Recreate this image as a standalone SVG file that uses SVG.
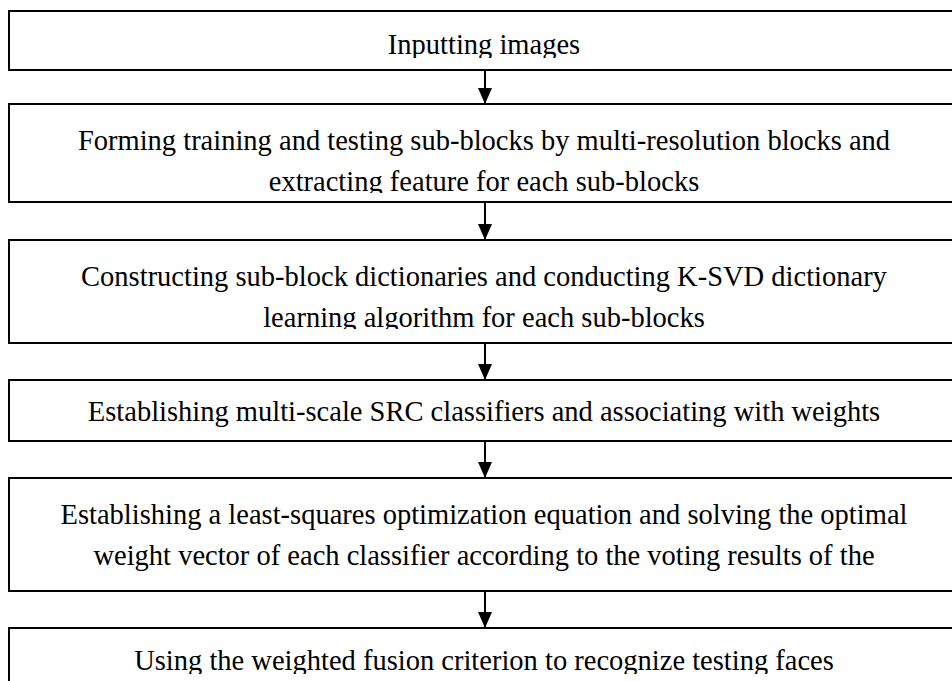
<svg xmlns="http://www.w3.org/2000/svg" width="952" height="681" viewBox="0 0 952 681">
  <style>
    .box { fill: #ffffff; stroke: #000000; stroke-width: 2; }
    .label { font-family: "Liberation Serif", "DejaVu Serif", serif; font-size: 28.5px; fill: #000000; text-anchor: middle; }
    .edge { stroke: #000000; stroke-width: 2; fill: none; }
  </style>
  <defs>
    <marker id="arrow" viewBox="0 0 16 14" refX="16" refY="7" markerWidth="16" markerHeight="14" markerUnits="userSpaceOnUse" orient="auto">
      <path d="M0,0 L16,7 L0,14 Z" fill="#000000"/>
    </marker>
    <!-- text frames: the last line of a frame is cut a little below its baseline -->
    <clipPath id="frame1"><rect x="9" y="11" width="960" height="47"/></clipPath>
    <clipPath id="frame2"><rect x="9" y="104" width="960" height="89"/></clipPath>
    <clipPath id="frame3"><rect x="9" y="240" width="960" height="89"/></clipPath>
    <clipPath id="frame6"><rect x="9" y="628" width="960" height="46"/></clipPath>
  </defs>
  <rect width="952" height="681" fill="#ffffff"/>

  <g id="step1">
    <rect class="box" x="9" y="11" width="960" height="59"/>
    <g clip-path="url(#frame1)">
      <text class="label" x="484" y="54">Inputting images</text>
    </g>
  </g>

  <g id="step2">
    <rect class="box" x="9" y="104" width="960" height="98"/>
    <g clip-path="url(#frame2)">
      <text class="label" x="484" y="150">Forming training and testing sub-blocks by multi-resolution blocks and</text>
      <text class="label" x="484" y="191">extracting feature for each sub-blocks</text>
    </g>
  </g>

  <g id="step3">
    <rect class="box" x="9" y="240" width="960" height="103"/>
    <g clip-path="url(#frame3)">
      <text class="label" x="484" y="286">Constructing sub-block dictionaries and conducting K-SVD dictionary</text>
      <text class="label" x="484" y="327">learning algorithm for each sub-blocks</text>
    </g>
  </g>

  <g id="step4">
    <rect class="box" x="9" y="380" width="960" height="61"/>
    <text class="label" x="484" y="421">Establishing multi-scale SRC classifiers and associating with weights</text>
  </g>

  <g id="step5">
    <rect class="box" x="9" y="478" width="960" height="113"/>
    <text class="label" x="484" y="524">Establishing a least-squares optimization equation and solving the optimal</text>
    <text class="label" x="484" y="565">weight vector of each classifier according to the voting results of the</text>
  </g>

  <g id="step6">
    <rect class="box" x="9" y="628" width="960" height="70"/>
    <g clip-path="url(#frame6)">
      <text class="label" x="484" y="670">Using the weighted fusion criterion to recognize testing faces</text>
    </g>
  </g>

  <g id="connectors">
    <line class="edge" x1="485" y1="70" x2="485" y2="104" marker-end="url(#arrow)"/>
    <line class="edge" x1="485" y1="202" x2="485" y2="240" marker-end="url(#arrow)"/>
    <line class="edge" x1="485" y1="343" x2="485" y2="380" marker-end="url(#arrow)"/>
    <line class="edge" x1="485" y1="441" x2="485" y2="478" marker-end="url(#arrow)"/>
    <line class="edge" x1="485" y1="591" x2="485" y2="628" marker-end="url(#arrow)"/>
  </g>
</svg>
